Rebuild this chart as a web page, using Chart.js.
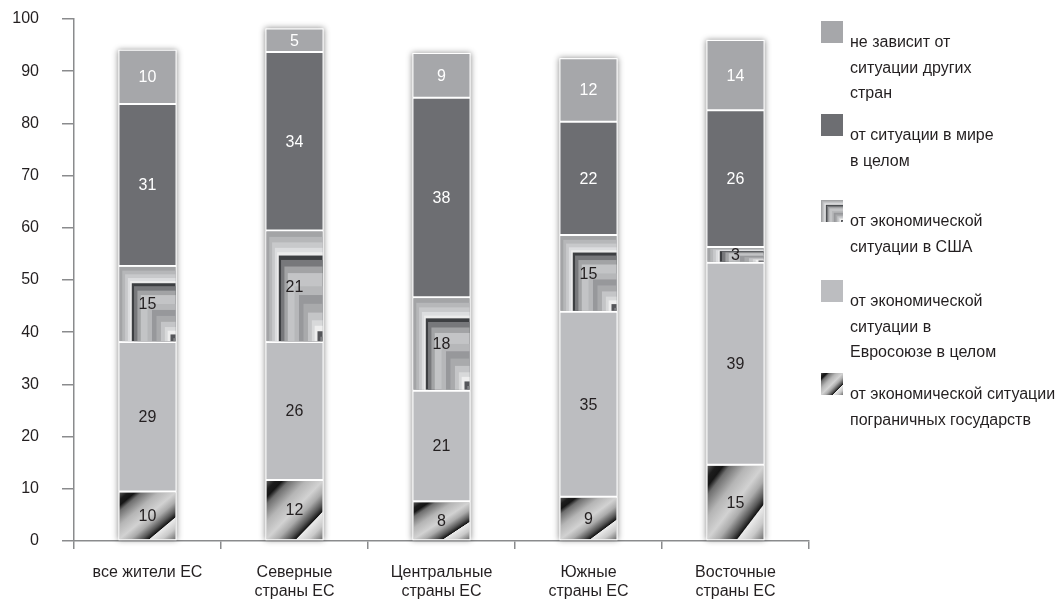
<!DOCTYPE html>
<html>
<head>
<meta charset="utf-8">
<script src="https://cdn.jsdelivr.net/npm/chart.js@4.4.1/dist/chart.umd.min.js"></script>
<style>
  html, body { margin: 0; padding: 0; background: #fff; }
  #wrap { position: relative; width: 1058px; height: 600px; overflow: hidden; }
  #chart { position: absolute; left: 0; top: 0; }
  #legend { position: absolute; left: 821px; top: 0; color: #231f20; }
  .item { position: absolute; left: 0; white-space: nowrap; }
  .item canvas { position: absolute; left: 0; top: 0; }
  .item .txt { position: absolute; left: 29px; top: 8px; line-height: 25.5px; }
</style>
</head>
<body>
<div id="wrap">
  <canvas id="chart" width="1058" height="600"></canvas>
  <div id="legend"></div>
</div>
<script>
const categories = [
  ['все жители ЕС'],
  ['Северные', 'страны ЕС'],
  ['Центральные', 'страны ЕС'],
  ['Южные', 'страны ЕС'],
  ['Восточные', 'страны ЕС']
];

// stacked bottom -> top
const borderStates = [9.5, 11.7, 7.6, 8.5, 14.6];
const euroZone     = [28.6, 26.4, 21.2, 35.4, 38.7];
const usa          = [14.6, 21.4, 17.9, 14.7, 3.0];
const world        = [31.0, 34.2, 38.2, 21.7, 26.2];
const independent  = [10.4, 4.5, 8.6, 12.2, 13.5];

const yTicks = [0, 10, 20, 30, 40, 50, 60, 70, 80, 90, 100];

const legendTops = [21, 114, 200, 280, 373];

// condensed face if the system has it, otherwise the regular one
function pickFont() {
  const c = document.createElement('canvas').getContext('2d');
  const s = 'все жители ЕС 0123';
  c.font = "18px 'Liberation Sans Narrow', monospace";
  const a = c.measureText(s).width;
  c.font = '18px monospace';
  const b = c.measureText(s).width;
  return Math.abs(a - b) > 0.5
    ? { family: "'Liberation Sans Narrow', 'Liberation Sans', Arial, sans-serif", size: 18.5 }
    : { family: "'Liberation Sans', Arial, sans-serif", size: 16 };
}
const F = pickFont();
const TEXT = '#231f20';
const AXIS = '#8a8b8d';

// nested L-shaped bands, stretched over the segment
const usaBands = [
  [1.00, '#a3a4a6'], [0.95, '#b6b7b9'], [0.90, '#c8c9cb'], [0.85, '#dcdddf'],
  [0.81, '#ececec'], [0.78, '#3d3f42'], [0.74, '#77787b'], [0.68, '#a2a3a5'],
  [0.62, '#c3c4c6'], [0.50, '#b6b7b9'], [0.42, '#97989b'], [0.34, '#a9aaac'],
  [0.26, '#c4c5c7'], [0.19, '#d8d9da'], [0.14, '#eeeeee'], [0.09, '#55565a'],
  [0.04, '#808184']
];

function paintUsa(ctx, x, y, w, h) {
  ctx.save();
  usaBands.forEach(([s, c]) => {
    ctx.fillStyle = c;
    ctx.fillRect(x + (1 - s) * w, y + (1 - s) * h, s * w, s * h);
  });
  ctx.restore();
}

const hatchStops = [
  [0, '#5a5a5a'], [0.08, '#1c1c1c'], [0.14, '#151515'], [0.2, '#6e6e6e'],
  [0.35, '#b5b5b5'], [0.5, '#d2d2d2'], [0.6, '#ababab'], [0.7, '#575757'],
  [0.76, '#141414'], [0.77, '#ebebeb'], [0.88, '#c9c9c9'], [1, '#707070']
];

function paintHatch(ctx, x, y, w, h) {
  ctx.save();
  ctx.beginPath();
  ctx.rect(x, y, w, h);
  ctx.clip();
  ctx.translate(x, y);
  ctx.scale(w, h);
  const g = ctx.createLinearGradient(0, 0, 1, 1);
  hatchStops.forEach(([t, c]) => g.addColorStop(t, c));
  ctx.fillStyle = g;
  ctx.fillRect(0, 0, 1, 1);
  ctx.restore();
}

const series = [
  { label: ['от экономической ситуации', 'пограничных государств'], data: borderStates, color: '#c0c0c0', paint: paintHatch, text: TEXT },
  { label: ['от экономической', 'ситуации в', 'Евросоюзе в целом'], data: euroZone, color: '#bcbdc0', text: TEXT },
  { label: ['от экономической', 'ситуации в США'], data: usa, color: '#b0b1b3', paint: paintUsa, text: TEXT },
  { label: ['от ситуации в мире', 'в целом'], data: world, color: '#6d6e72', text: '#ffffff' },
  { label: ['не зависит от', 'ситуации других', 'стран'], data: independent, color: '#a6a7aa', text: '#ffffff' }
];

const BW = 1;

const barShadow = {
  id: 'barShadow',
  beforeDatasetsDraw(chart) {
    const ctx = chart.ctx;
    const first = chart.getDatasetMeta(0).data;
    const last = chart.getDatasetMeta(series.length - 1).data;
    ctx.save();
    first.forEach((el, i) => {
      const p = el.getProps(['x', 'base', 'width'], true);
      const top = last[i].getProps(['y'], true).y;
      ctx.shadowColor = 'rgba(0,0,0,0.45)';
      ctx.shadowBlur = 6;
      ctx.fillStyle = '#ffffff';
      ctx.fillRect(p.x - p.width / 2, top, p.width, p.base - top);
    });
    ctx.restore();
  }
};

const fillsAndLabels = {
  id: 'fillsAndLabels',
  afterDatasetsDraw(chart) {
    const ctx = chart.ctx;
    series.forEach((s, di) => {
      if (!s.paint) return;
      chart.getDatasetMeta(di).data.forEach(el => {
        const p = el.getProps(['x', 'y', 'base', 'width'], true);
        s.paint(ctx, p.x - p.width / 2 + BW, p.y + BW, p.width - 2 * BW, p.base - p.y - 2 * BW);
      });
    });
    ctx.save();
    ctx.font = F.size + 'px ' + F.family;
    ctx.textAlign = 'center';
    ctx.textBaseline = 'middle';
    series.forEach((s, di) => {
      chart.getDatasetMeta(di).data.forEach((el, i) => {
        const p = el.getProps(['x', 'y', 'base'], true);
        ctx.fillStyle = s.text;
        ctx.fillText(String(Math.round(s.data[i])), p.x, (p.y + p.base) / 2 + 1);
      });
    });
    ctx.restore();
  }
};

const chart = new Chart(document.getElementById('chart').getContext('2d'), {
  type: 'bar',
  data: {
    labels: categories,
    datasets: series.map(s => ({
      label: s.label.join(' '),
      data: s.data,
      backgroundColor: s.color,
      borderColor: '#ffffff',
      borderWidth: BW,
      borderSkipped: false,
      categoryPercentage: 1,
      barPercentage: 0.395
    }))
  },
  options: {
    responsive: false,
    animation: false,
    layout: { padding: { left: 11, right: 249, top: 19, bottom: 0 } },
    plugins: {
      legend: { display: false },
      tooltip: { enabled: false }
    },
    scales: {
      x: {
        stacked: true,
        afterFit: axis => { axis.height = 59; axis.paddingLeft = 0; axis.paddingRight = 0; },
        grid: { display: true, drawOnChartArea: false, drawTicks: true, tickLength: 8, color: AXIS, lineWidth: 1.5, offset: true },
        border: { display: true, color: AXIS, width: 1.5 },
        ticks: { color: TEXT, font: { family: F.family, size: F.size, lineHeight: 19 / F.size }, padding: 14, maxRotation: 0, autoSkip: false }
      },
      y: {
        stacked: true,
        min: 0,
        max: 100,
        afterBuildTicks: axis => { axis.ticks = yTicks.map(v => ({ value: v })); },
        afterFit: axis => { axis.width = 63; axis.paddingTop = 0; axis.paddingBottom = 0; },
        grid: { display: true, drawOnChartArea: false, drawTicks: true, tickLength: 12, color: AXIS, lineWidth: 1.5 },
        border: { display: true, color: AXIS, width: 1.5 },
        ticks: { color: TEXT, font: { family: F.family, size: F.size }, padding: 23 }
      }
    }
  },
  plugins: [barShadow, fillsAndLabels]
});

// legend, top to bottom = stack top to bottom
const legend = document.getElementById('legend');
legend.style.fontFamily = F.family;
legend.style.fontSize = F.size + 'px';
series.slice().reverse().forEach((s, k) => {
  const item = document.createElement('div');
  item.className = 'item';
  item.style.top = legendTops[k] + 'px';
  const c = document.createElement('canvas');
  c.width = 22; c.height = 22;
  const cx = c.getContext('2d');
  if (s.paint) s.paint(cx, 0, 0, 22, 22);
  else { cx.fillStyle = s.color; cx.fillRect(0, 0, 22, 22); }
  item.appendChild(c);
  const t = document.createElement('div');
  t.className = 'txt';
  t.innerHTML = s.label.join('<br>');
  item.appendChild(t);
  legend.appendChild(item);
});
</script>
</body>
</html>
